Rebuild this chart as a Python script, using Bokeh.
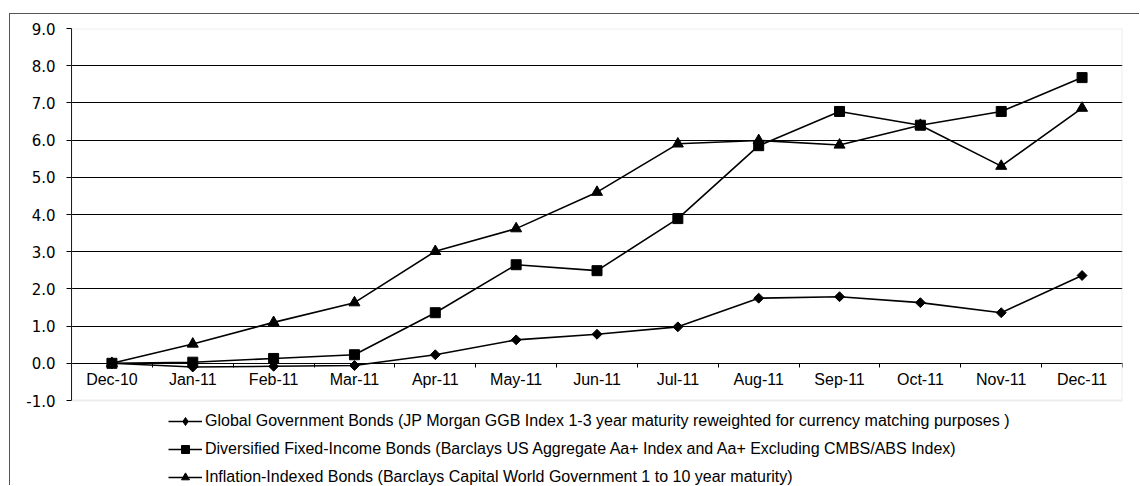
import math
from bokeh.plotting import figure
from bokeh.models import (LinearAxis, FixedTicker, Range1d, Legend, LegendItem,
                          CustomJSTickFormatter, Grid, BoxAnnotation)
from bokeh.core.properties import value
from bokeh.embed import file_html
from bokeh.resources import INLINE

months = ["Dec-10", "Jan-11", "Feb-11", "Mar-11", "Apr-11", "May-11", "Jun-11",
          "Jul-11", "Aug-11", "Sep-11", "Oct-11", "Nov-11", "Dec-11"]
global_gov = [0.0, -0.10, -0.08, -0.06, 0.23, 0.63, 0.78, 0.98, 1.75, 1.79, 1.63, 1.36, 2.36]
diversified = [0.0, 0.03, 0.13, 0.23, 1.36, 2.65, 2.49, 3.89, 5.85, 6.77, 6.40, 6.77, 7.68]
inflation = [0.0, 0.52, 1.10, 1.63, 3.01, 3.62, 4.60, 5.90, 5.99, 5.87, 6.40, 5.30, 6.86]
y_ticks = [-1, 0, 1, 2, 3, 4, 5, 6, 7, 8, 9]
labels = [
    "Global Government Bonds (JP Morgan GGB Index 1-3 year maturity reweighted for currency matching purposes )",
    "Diversified Fixed-Income Bonds (Barclays US Aggregate Aa+ Index and Aa+ Excluding CMBS/ABS Index)",
    "Inflation-Indexed Bonds (Barclays Capital World Government 1 to 10 year maturity)",
]

x = list(range(len(months)))
FONT = "Liberation Sans"

# geometry: plot box 372 px tall for 10 units, legend space of 86 px below it
W, H = 1130, 472
TOP, LEFT, RIGHT = 14, 61, 18
box_px = 372.0
y_lo, y_hi = y_ticks[0], y_ticks[-1]
px_per_unit = box_px / (y_hi - y_lo)
frame_px = H - TOP
y_bottom = y_hi - frame_px / px_per_unit

p = figure(width=W, height=H, output_backend="svg", toolbar_location=None,
           x_range=Range1d(-0.5, len(months) - 0.5), y_range=Range1d(y_bottom, y_hi),
           x_axis_type=None, y_axis_type=None,
           min_border_left=LEFT, min_border_right=RIGHT, min_border_top=TOP, min_border_bottom=0)
p.styles = {"margin-left": "9px", "margin-top": "13px",
            "border-left": "1px solid #555555", "border-top": "1px solid #555555"}
p.outline_line_color = None
p.background_fill_color = "white"
p.border_fill_color = "white"

# plot-area box
p.add_layout(BoxAnnotation(left=-0.5, right=len(months) - 0.5, bottom=y_lo, top=y_hi,
                           fill_alpha=0, line_color="#c0c0c0", line_width=2))

# y axis
yaxis = LinearAxis(ticker=FixedTicker(ticks=y_ticks), bounds=(y_lo, y_hi))
yaxis.formatter = CustomJSTickFormatter(code="return tick.toFixed(1);")
yaxis.axis_line_color = "black"
yaxis.major_tick_line_color = "black"
yaxis.major_tick_out = 5
yaxis.major_tick_in = 0
yaxis.minor_tick_line_color = None
yaxis.major_label_text_font = "DejaVu Sans"
yaxis.major_label_text_font_size = "15px"
yaxis.major_label_text_color = "black"
yaxis.major_label_standoff = 11
p.add_layout(yaxis, "left")

# horizontal grid lines
grid = Grid(dimension=1, ticker=FixedTicker(ticks=[t for t in y_ticks if y_lo < t < y_hi]))
grid.grid_line_color = "black"
grid.grid_line_width = 1
p.add_layout(grid)

# x axis at y = 0 with ticks on the category boundaries
xb = LinearAxis(ticker=FixedTicker(ticks=[i - 0.5 for i in x] + [x[-1] + 0.5]), fixed_location=0)
xb.major_label_text_alpha = 0
xb.major_label_text_font_size = "1px"
xb.axis_line_color = "black"
xb.major_tick_line_color = "black"
xb.major_tick_out = 4
xb.major_tick_in = 0
xb.minor_tick_line_color = None
p.add_layout(xb, "below")

# category labels under the zero line
p.text(x=x, y=[0] * len(x), text=months, text_align="center", text_baseline="middle",
       y_offset=16, text_font=value(FONT), text_font_size="16px", text_color="black")

lw = 1.6
r1 = p.line(x, global_gov, line_color="black", line_width=lw)
m1 = p.scatter(x, global_gov, marker="square", size=7, angle=math.pi / 4, color="black")
# diamond symbol for the legend, drawn at the first point (hidden under the square there)
m1_leg = p.scatter(x[:1], global_gov[:1], marker="diamond", size=11, color="black")
r2 = p.line(x, diversified, line_color="black", line_width=lw)
m2 = p.scatter(x, diversified, marker="square", size=10, color="black")
r3 = p.line(x, inflation, line_color="black", line_width=lw)
m3 = p.scatter(x, inflation, marker="triangle", size=11, color="black")

legend = Legend(items=[LegendItem(label=labels[0], renderers=[r1, m1_leg]),
                       LegendItem(label=labels[1], renderers=[r2, m2]),
                       LegendItem(label=labels[2], renderers=[r3, m3])],
                location=(97, -1))
legend.border_line_color = None
legend.background_fill_alpha = 0
legend.padding = 0
legend.margin = 0
legend.spacing = 8
legend.glyph_width = 34
legend.glyph_height = 20
legend.label_height = 20
legend.label_standoff = 3
legend.label_text_font = FONT
legend.label_text_font_size = "16px"
legend.label_text_color = "black"
p.add_layout(legend, "center")

open("out.html", "w").write(file_html(p, INLINE))
